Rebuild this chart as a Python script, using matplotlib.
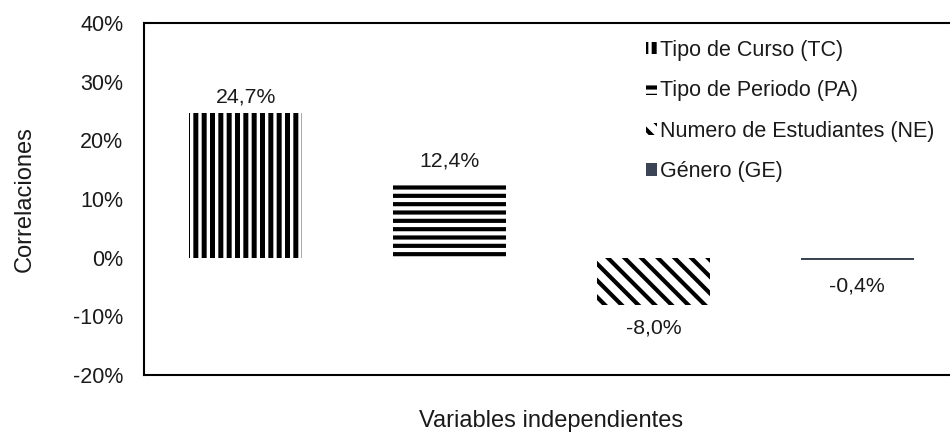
import matplotlib
matplotlib.use("Agg")
import matplotlib.pyplot as plt
from matplotlib.ticker import FuncFormatter

plt.rcParams['font.family'] = ['Liberation Sans', 'DejaVu Sans']

# Correlation of each independent variable (in %)
categories = ["Tipo de Curso (TC)", "Tipo de Periodo (PA)",
              "Numero de Estudiantes (NE)", "Género (GE)"]
values = [24.7, 12.4, -8.0, -0.4]
value_labels = ["24,7%", "12,4%", "-8,0%", "-0,4%"]
y_ticks = [-20, -10, 0, 10, 20, 30, 40]

# Fill styles per bar: (hatch, hatch linewidth, face colour)
styles = [("||", 3.6, "white"),
          ("--", 3.0, "white"),
          ("\\\\", 3.0, "white"),
          ("", 1.0, "#3b4454")]
label_offsets_pt = [11, 17, 17, 19]

fig = plt.figure(figsize=(9.5, 4.32), dpi=100)
ax = fig.add_axes([144 / 950, 57 / 432, 815 / 950, 352 / 432])

x = list(range(len(values)))
handles = []
for xi, v, (hatch, hlw, fc), lab in zip(x, values, styles, categories):
    with plt.rc_context({'hatch.linewidth': hlw, 'hatch.color': 'black'}):
        bars = ax.bar(xi, v, width=0.555, color=fc, hatch=hatch or None,
                      edgecolor='black' if hatch else fc, linewidth=0,
                      label=lab)
        for b in bars:
            if hasattr(b, 'set_hatch_linewidth'):
                b.set_hatch_linewidth(hlw)
    handles.append(bars)

for xi, v, txt, off in zip(x, values, value_labels, label_offsets_pt):
    ax.annotate(txt, (xi, v), xytext=(0, off if v >= 0 else -off),
                textcoords='offset points', ha='center', va='center',
                fontsize=15.3, color='#1a1a1a')

ax.set_xlim(-0.5, 3.5)
ax.set_ylim(-20, 40)
ax.set_yticks(y_ticks)
ax.yaxis.set_major_formatter(FuncFormatter(lambda v, p: f"{v:.0f}%"))
ax.set_xticks([])
ax.tick_params(axis='y', length=0, pad=15, labelsize=15.5, labelcolor='#1a1a1a')
for s in ax.spines.values():
    s.set_linewidth(1.5)
    s.set_color('black')

ax.set_ylabel("Correlaciones", fontsize=17, labelpad=27, color='#1a1a1a')
ax.set_xlabel("Variables independientes", fontsize=17, labelpad=25, color='#1a1a1a')

with plt.rc_context({'hatch.linewidth': 3.0}):
    leg = ax.legend(handles=handles, loc='upper left',
                    bbox_to_anchor=(646 / 950, 1 - 40 / 432),
                    bbox_transform=fig.transFigure, frameon=False,
                    fontsize=15.5, handlelength=0.5, handleheight=0.5,
                    handletextpad=0.15, labelspacing=0.9, borderpad=0,
                    borderaxespad=0)
for t in leg.get_texts():
    t.set_color('#1a1a1a')
for h, (hatch, hlw, fc) in zip(leg.legend_handles, styles):
    if hasattr(h, 'set_hatch_linewidth'):
        h.set_hatch_linewidth(hlw)

fig.savefig("out.png", dpi=100)
